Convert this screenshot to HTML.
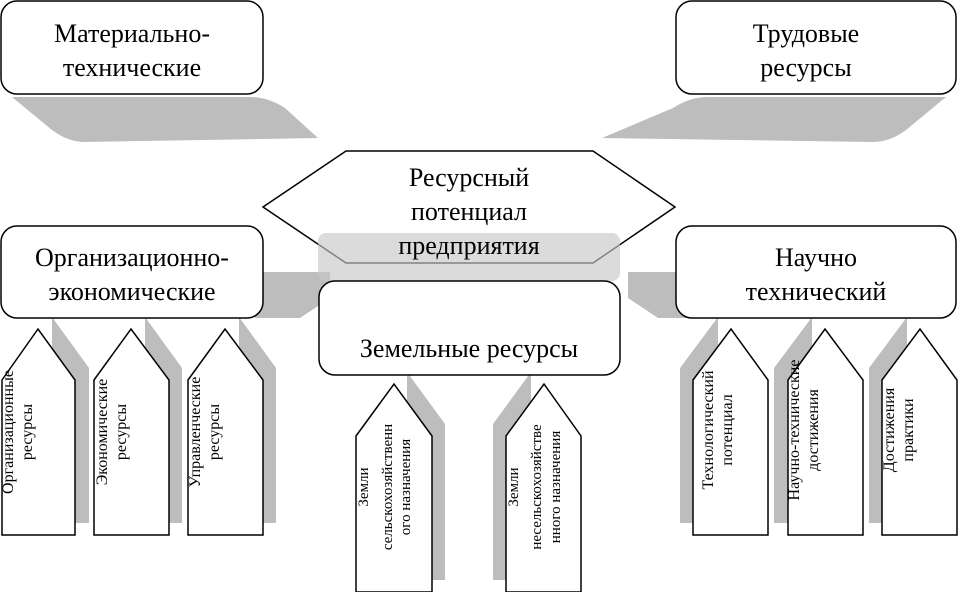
<!DOCTYPE html>
<html><head><meta charset="utf-8"><style>html,body{margin:0;padding:0;background:#fff}svg{display:block}</style></head><body>
<svg width="958" height="592" viewBox="0 0 958 592" xmlns="http://www.w3.org/2000/svg" font-family="Liberation Serif, serif">
<g fill="#bdbdbd">
<path d="M12,97 L250,97 Q268,97 285,108 L318,138 L85,142 Q68,142 52,130 Z"/>
<path d="M946,97 L708,97 Q690,97 673,108 L602,138 L873,142 Q890,142 906,130 Z"/>
<path d="M255,272 L330,272 L330,298 L300,318 L255,318 Z"/>
<path d="M703,272 L628,272 L628,298 L658,318 L703,318 Z"/>
<!-- left shadows -->
<path d="M52,317 L89,368 L89,523 L52,523 Z"/>
<path d="M145,317 L182,368 L182,523 L145,523 Z"/>
<path d="M239,317 L276,368 L276,523 L239,523 Z"/>
<path d="M407,372 L445,424 L445,580 L407,580 Z"/>
<!-- right shadows -->
<path d="M718,317 L680,368 L680,523 L718,523 Z"/>
<path d="M812,317 L774,368 L774,523 L812,523 Z"/>
<path d="M907,317 L869,368 L869,523 L907,523 Z"/>
<path d="M531,372 L493,424 L493,580 L531,580 Z"/>
</g>
<g fill="#fff" stroke="#000" stroke-width="1.5">
<rect x="1" y="1" width="262" height="93" rx="16"/>
<rect x="676" y="1" width="280" height="93" rx="16"/>
<rect x="1" y="226" width="262" height="92" rx="16"/>
<rect x="676" y="226" width="280" height="92" rx="16"/>
<polygon points="263,207 346,151 593,151 675,207 593,263 346,263"/>
</g>
<rect x="318" y="233" width="302" height="48" rx="8" fill="#c8c8c8" fill-opacity="0.65"/>
<rect x="319" y="281" width="301" height="94" rx="16" fill="#fff" stroke="#000" stroke-width="1.5"/>
<g fill="#fff" stroke="#000" stroke-width="1.5">
<polygon points="2,380 38,329 75,380 75,535 2,535"/>
<polygon points="94,380 131,329 169,380 169,535 94,535"/>
<polygon points="188,380 225,329 263,380 263,535 188,535"/>
<polygon points="693,380 731,329 768,380 768,535 693,535"/>
<polygon points="788,380 825,329 863,380 863,535 788,535"/>
<polygon points="882,380 920,329 957,380 957,535 882,535"/>
<polygon points="356,436 394,384 432,436 432,592 356,592"/>
<polygon points="506,436 544,384 581,436 581,592 506,592"/>
</g>
<g font-size="26" text-anchor="middle" fill="#000">
<text x="132" y="42">Материально-</text>
<text x="132" y="76">технические</text>
<text x="806" y="42">Трудовые</text>
<text x="806" y="76">ресурсы</text>
<text x="132" y="266">Организационно-</text>
<text x="132" y="300">экономические</text>
<text x="816" y="266">Научно</text>
<text x="816" y="300">технический</text>
<text x="469" y="186">Ресурсный</text>
<text x="469" y="220">потенциал</text>
<text x="469" y="254">предприятия</text>
<text x="469" y="357">Земельные ресурсы</text>
</g>
<g font-size="16" text-anchor="middle" fill="#000">
<text transform="translate(13,432) rotate(-90)">Организационные</text>
<text transform="translate(32,432) rotate(-90)">ресурсы</text>
<text transform="translate(107,432) rotate(-90)">Экономические</text>
<text transform="translate(126,432) rotate(-90)">ресурсы</text>
<text transform="translate(200,432) rotate(-90)">Управленческие</text>
<text transform="translate(219,432) rotate(-90)">ресурсы</text>
<text transform="translate(713,430) rotate(-90)">Технологический</text>
<text transform="translate(732,430) rotate(-90)">потенциал</text>
<text transform="translate(799,430) rotate(-90)">Научно-технические</text>
<text transform="translate(818,430) rotate(-90)">достижения</text>
<text transform="translate(894,430) rotate(-90)">Достижения</text>
<text transform="translate(913,430) rotate(-90)">практики</text>
</g>
<g font-size="15" text-anchor="middle" fill="#000">
<text transform="translate(368,487) rotate(-90)">Земли</text>
<text transform="translate(392,487) rotate(-90)">сельскохозяйственн</text>
<text transform="translate(410,487) rotate(-90)">ого назначения</text>
<text transform="translate(518,487) rotate(-90)">Земли</text>
<text transform="translate(541,487) rotate(-90)">несельскохозяйстве</text>
<text transform="translate(560,487) rotate(-90)">нного назначения</text>
</g>
</svg>
</body></html>
